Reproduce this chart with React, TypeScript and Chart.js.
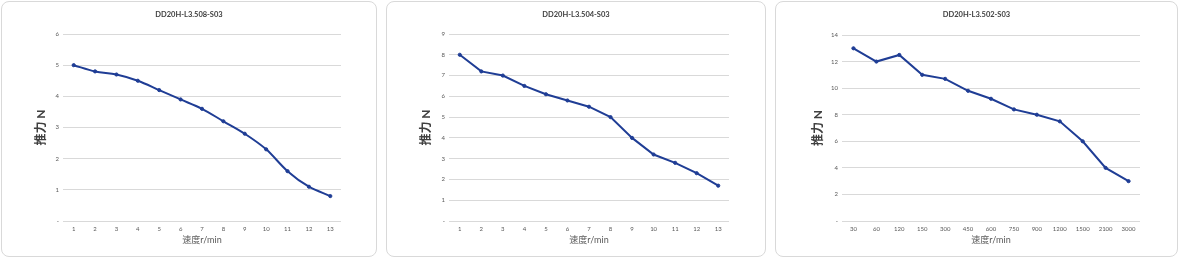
import React, { useEffect, useRef } from "react";
import { Chart, registerables } from "chart.js";

Chart.register(...registerables);

const titles = ["DD20H-L3.508-S03", "DD20H-L3.504-S03", "DD20H-L3.502-S03"];
const categoriesA = ["1", "2", "3", "4", "5", "6", "7", "8", "9", "10", "11", "12", "13"];
const categoriesC = ["30", "60", "120", "150", "300", "450", "600", "750", "900", "1200", "1500", "2100", "3000"];
const valuesA = [5, 4.8, 4.7, 4.5, 4.2, 3.9, 3.6, 3.2, 2.8, 2.3, 1.6, 1.1, 0.8];
const valuesB = [8, 7.2, 7, 6.5, 6.1, 5.8, 5.5, 5, 4, 3.2, 2.8, 2.3, 1.7];
const valuesC = [13, 12, 12.5, 11, 10.7, 9.8, 9.2, 8.4, 8, 7.5, 6, 4, 3];
const yMax = [6, 9, 14];
const yStep = [1, 1, 2];
const xTitle = "速度r/min";
const yTitle = "推力 N";

const FONT = 'Lato, "Noto Sans CJK SC", sans-serif';
const LINE = "#1f3d95";

type PanelSpec = {
  left: number; top: number; width: number; height: number;
  axisW: number; chartTop: number; chartBottom: number; chartRight: number;
  smooth: boolean; yTitlePad: number;
};

const panels: PanelSpec[] = [
  { left: 1, top: 1, width: 376, height: 256, axisW: 61, chartTop: 32, chartBottom: 219, chartRight: 339, smooth: true, yTitlePad: 32 },
  { left: 386, top: 1, width: 380, height: 256, axisW: 62, chartTop: 32, chartBottom: 219, chartRight: 342, smooth: false, yTitlePad: 32 },
  { left: 775, top: 1, width: 403, height: 256, axisW: 66, chartTop: 33, chartBottom: 219, chartRight: 364, smooth: false, yTitlePad: 35 },
];

const labelsFor = [categoriesA, categoriesA, categoriesC];
const valuesFor = [valuesA, valuesB, valuesC];

function Panel({ i }: { i: number }) {
  const ref = useRef<HTMLCanvasElement | null>(null);
  const p = panels[i];
  const cw = p.width - 2;
  const ch = p.height - 2;
  useEffect(() => {
    if (!ref.current) return;
    const titleLH = 9;
    const titleTop = 8.5;
    const chart = new Chart(ref.current, {
      type: "line",
      data: {
        labels: labelsFor[i],
        datasets: [
          {
            data: valuesFor[i],
            yAxisID: "y",
            borderColor: LINE,
            backgroundColor: LINE,
            borderWidth: 2,
            pointRadius: 1.6,
            pointBackgroundColor: LINE,
            pointBorderColor: LINE,
            pointBorderWidth: 1,
            tension: p.smooth ? 0.4 : 0,
            cubicInterpolationMode: p.smooth ? "monotone" : "default",
          },
        ],
      },
      options: {
        responsive: false,
        animation: false,
        layout: { padding: { left: 0, top: 0, bottom: 0, right: 0 } },
        plugins: {
          legend: { display: false },
          tooltip: { enabled: false },
          title: {
            display: true,
            text: titles[i],
            color: "#404040",
            font: { family: FONT, size: 7.5, lineHeight: 1.2 },
            padding: { top: titleTop, bottom: p.chartTop - titleTop - titleLH },
          },
        },
        scales: {
          x: {
            offset: true,
            grid: { display: false, drawTicks: false, offset: true },
            border: { display: false },
            ticks: { color: "#595959", font: { family: FONT, size: 6 }, padding: 4, autoSkip: false, maxRotation: 0 },
            title: {
              display: true,
              text: xTitle,
              color: "#595959",
              font: { family: FONT, size: 9, lineHeight: 1.2 },
              padding: { top: 0, bottom: 11 },
            },
            afterFit: (s: any) => { s.height = ch - p.chartBottom; },
          },
          y: {
            min: 0,
            max: yMax[i],
            grid: { color: "#d9d9d9", lineWidth: 1, drawTicks: false },
            border: { display: false },
            ticks: {
              stepSize: yStep[i],
              color: "#595959",
              font: { family: FONT, size: 6 },
              padding: 4,
              callback: (v: any) => (Number(v) === 0 ? "-" : String(v)),
            },
            title: {
              display: true,
              text: yTitle,
              color: "#404040",
              font: { family: FONT, size: 12, weight: "bold", lineHeight: 1.2 },
              padding: { top: p.yTitlePad, bottom: 0 },
            },
            afterFit: (s: any) => { s.width = p.axisW; },
          },
          yR: {
            position: "right",
            display: true,
            grid: { display: false, drawTicks: false },
            border: { display: false },
            ticks: { display: false },
            title: { display: false },
            afterFit: (s: any) => { s.width = cw - p.chartRight; },
          },
        },
      },
    } as any);
    return () => chart.destroy();
  }, [i]);
  return (
    <div
      style={{
        position: "absolute",
        left: p.left,
        top: p.top,
        width: p.width - 2,
        height: p.height - 2,
        border: "1px solid #d9d9d9",
        borderRadius: 8,
        background: "#fff",
        overflow: "hidden",
      }}
    >
      <canvas ref={ref} width={cw} height={ch} style={{ display: "block", width: cw, height: ch }} />
    </div>
  );
}

export default function App() {
  return (
    <div style={{ position: "absolute", left: 0, top: 0, width: 1180, height: 260, background: "#fff" }}>
      <Panel i={0} />
      <Panel i={1} />
      <Panel i={2} />
    </div>
  );
}
